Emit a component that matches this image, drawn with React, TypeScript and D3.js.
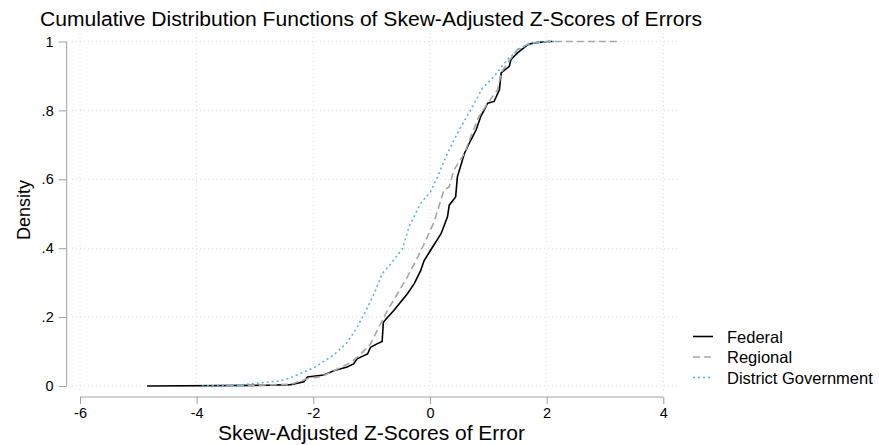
import React, { useEffect, useRef } from 'react'
import * as d3 from 'd3'

// (x = skew-adjusted z-score, y = cumulative share)
const federalX = [-4.85, -2.79, -2.39, -2.16, -2.10, -1.82, -1.65, -1.42, -1.31, -1.25, -1.07, -1.02, -0.90, -0.82, -0.80, -0.73, -0.62, -0.53, -0.39, -0.27, -0.16, -0.10, 0.01, 0.19, 0.30, 0.33, 0.44, 0.47, 0.59, 0.70, 0.79, 0.87, 0.99, 1.10, 1.19, 1.22, 1.36, 1.39, 1.50, 1.68, 1.79, 2.02, 2.10]
const federalY = [0, 0.002, 0.004, 0.012, 0.026, 0.032, 0.044, 0.055, 0.064, 0.079, 0.093, 0.112, 0.123, 0.129, 0.185, 0.199, 0.219, 0.238, 0.267, 0.297, 0.335, 0.364, 0.394, 0.442, 0.491, 0.525, 0.549, 0.607, 0.675, 0.714, 0.743, 0.782, 0.821, 0.826, 0.860, 0.909, 0.928, 0.948, 0.967, 0.991, 0.996, 1.0, 1.0]

const regionalX = [-3.5, -2.39, -2.05, -1.88, -1.65, -1.36, -1.19, -1.02, -0.85, -0.73, -0.56, -0.39, -0.21, -0.10, 0.07, 0.24, 0.33, 0.41, 0.59, 0.70, 0.84, 0.99, 1.16, 1.22, 1.33, 1.50, 1.73, 2.02, 3.22]
const regionalY = [0, 0.005, 0.024, 0.026, 0.044, 0.068, 0.092, 0.122, 0.180, 0.219, 0.267, 0.316, 0.374, 0.413, 0.476, 0.569, 0.578, 0.627, 0.675, 0.724, 0.782, 0.821, 0.860, 0.909, 0.938, 0.977, 0.996, 1.0, 1.0]

const districtX = [-3.91, -3.25, -2.56, -2.39, -1.99, -1.65, -1.42, -1.25, -1.07, -0.96, -0.82, -0.67, -0.47, -0.36, -0.16, 0.01, 0.13, 0.30, 0.50, 0.70, 0.90, 1.10, 1.33, 1.56, 1.79, 2.13]
const districtY = [0, 0.003, 0.015, 0.024, 0.053, 0.090, 0.126, 0.170, 0.228, 0.267, 0.326, 0.355, 0.399, 0.462, 0.530, 0.564, 0.607, 0.676, 0.743, 0.802, 0.865, 0.899, 0.948, 0.982, 0.996, 1.0]

const seriesNames = ['Federal', 'Regional', 'District Government']
const xTicks = [-6, -4, -2, 0, 2, 4]
const yTicks = [0, 0.2, 0.4, 0.6, 0.8, 1]
const yTickLabels = ['0', '.2', '.4', '.6', '.8', '1']

const FONT = '"Liberation Sans", Arial, Helvetica, sans-serif'

export default function App () {
  const ref = useRef<SVGSVGElement>(null)

  useEffect(() => {
    const svg = d3.select(ref.current)
    svg.selectAll('*').remove()

    const x = d3.scaleLinear().domain([-6, 4]).range([80, 663.3])
    const y = d3.scaleLinear().domain([0, 1]).range([386, 41.5])

    const series = [
      { name: seriesNames[0], xs: federalX, ys: federalY, color: '#000000', dash: null, width: 1.6 },
      { name: seriesNames[1], xs: regionalX, ys: regionalY, color: '#a6a6a6', dash: '7,4', width: 1.6 },
      { name: seriesNames[2], xs: districtX, ys: districtY, color: '#56b4e9', dash: '2,3', width: 1.6 }
    ]

    // grid
    const grid = svg.append('g')
    grid.selectAll('.hg').data(yTicks).enter().append('line')
      .attr('x1', 72).attr('x2', 677)
      .attr('y1', d => y(d)).attr('y2', d => y(d))
      .attr('stroke', '#d4d4d4').attr('stroke-width', 0.8).attr('stroke-dasharray', '1,3')
    grid.selectAll('.vg').data(xTicks).enter().append('line')
      .attr('x1', d => x(d)).attr('x2', d => x(d))
      .attr('y1', 33).attr('y2', 393)
      .attr('stroke', '#d4d4d4').attr('stroke-width', 0.8).attr('stroke-dasharray', '1,3')

    // y axis
    const yAxis = d3.axisLeft(y).tickValues(yTicks).tickSize(8).tickPadding(5)
      .tickFormat((d, i) => yTickLabels[i])
    const ya = svg.append('g').attr('transform', 'translate(66.7,0)').call(yAxis)
    ya.select('.domain').attr('stroke', '#a0a0a0').attr('d', 'M0,' + y(1) + 'V' + y(0))
    ya.selectAll('.tick line').attr('stroke', '#a0a0a0')
    ya.selectAll('.tick text').attr('font-family', FONT).attr('font-size', 14.5).attr('fill', '#000')

    // x axis
    const xAxis = d3.axisBottom(x).tickValues(xTicks).tickSize(7).tickPadding(4)
      .tickFormat(d => String(d).replace('−', '-'))
    const xa = svg.append('g').attr('transform', 'translate(0,397)').call(xAxis)
    xa.select('.domain').attr('stroke', '#a0a0a0').attr('d', 'M' + x(-6) + ',0H' + x(4))
    xa.selectAll('.tick line').attr('stroke', '#a0a0a0')
    xa.selectAll('.tick text').attr('font-family', FONT).attr('font-size', 14.5).attr('fill', '#000')

    // lines
    series.forEach(s => {
      const pts = s.xs.map((v, i) => [v, s.ys[i]] as [number, number])
      const line = d3.line<[number, number]>().x(d => x(d[0])).y(d => y(d[1]))
      const p = svg.append('path').datum(pts)
        .attr('d', line)
        .attr('fill', 'none')
        .attr('stroke', s.color)
        .attr('stroke-width', s.width)
      if (s.dash) p.attr('stroke-dasharray', s.dash)
    })

    // titles
    svg.append('text').attr('x', 40).attr('y', 25.5)
      .attr('font-family', FONT).attr('font-size', 19.5)
      .attr('textLength', 662).attr('lengthAdjust', 'spacingAndGlyphs')
      .text('Cumulative Distribution Functions of Skew-Adjusted Z-Scores of Errors')
    svg.append('text').attr('x', 371.5).attr('y', 440).attr('text-anchor', 'middle')
      .attr('font-family', FONT).attr('font-size', 19.5)
      .attr('textLength', 307).attr('lengthAdjust', 'spacingAndGlyphs')
      .text('Skew-Adjusted Z-Scores of Error')
    svg.append('text').attr('transform', 'translate(30,210) rotate(-90)').attr('text-anchor', 'middle')
      .attr('font-family', FONT).attr('font-size', 18)
      .text('Density')

    // legend
    const lg = svg.append('g').selectAll('g').data(series).enter().append('g')
      .attr('transform', (d, i) => 'translate(693,' + (336.5 + i * 20.5) + ')')
    lg.append('line').attr('x1', 0).attr('x2', 20).attr('y1', 0).attr('y2', 0)
      .attr('stroke', d => d.color).attr('stroke-width', 1.6)
      .attr('stroke-dasharray', d => d.dash || null)
    lg.append('text').attr('x', 34).attr('y', 6)
      .attr('font-family', FONT).attr('font-size', 16.5)
      .text(d => d.name)
  }, [])

  return (
    <div>
      <style>{'body{margin:0}'}</style>
      <svg ref={ref} width='879' height='445' style={{ display: 'block', background: '#fff' }} />
    </div>
  )
}
